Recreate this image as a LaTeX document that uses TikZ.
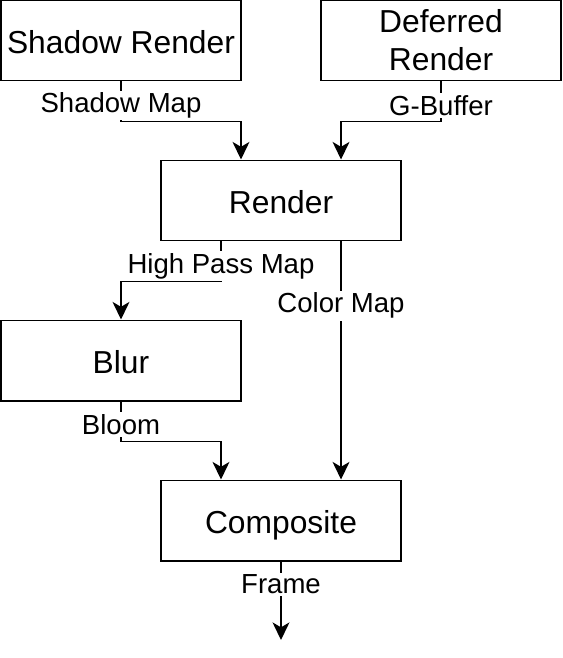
\documentclass[tikz,border=0pt]{standalone}
\usepackage{fontspec}
\setmainfont{Liberation Sans}
\usetikzlibrary{arrows.meta}
\tikzset{
  pass/.style={draw, line width=1.4pt, fill=white, align=center,
    minimum width=6cm, minimum height=2cm, inner sep=2pt,
    font=\fontsize{22.6}{27}\selectfont},
  oneline/.style={text height=17.8pt, text depth=0pt},
  link/.style={draw, line width=1.4pt, -{Stealth[length=12.5pt,width=12pt,inset=3.5pt]}},
  lbl/.style={fill=white, inner xsep=1pt, inner ysep=1.5pt, font=\fontsize{19.6}{23.5}\selectfont}
}
\begin{document}
\begin{tikzpicture}[x=0.025cm, y=-0.025cm]
  \useasboundingbox (0,0) rectangle (562,658);
  % passes, pixel grid of the sketch
  \node[pass, oneline] (shadow)    at (121,40.5)  {Shadow Render};
  \node[pass]          (deferred)  at (441,40.5)  {Deferred\\Render};
  \node[pass, oneline] (render)    at (281,200.5) {Render};
  \node[pass, oneline] (blur)      at (121,360.5) {Blur};
  \node[pass, oneline] (composite) at (281,520.5) {Composite};
  \coordinate (out) at (281,640);

  % data flow
  \draw[link] (shadow.south) -- node[lbl, pos=0.6]{Shadow Map} ++(0,40)
    -| ([xshift=-1cm]render.north);
  \draw[link] (deferred.south) -- node[lbl, pos=0.6]{G-Buffer} ++(0,40)
    -| ([xshift=1.5cm]render.north);
  \draw[link] ([xshift=-1.5cm]render.south) -- node[lbl, pos=0.62]{High Pass Map} ++(0,40)
    -| (blur.north);
  \draw[link] ([xshift=1.5cm]render.south) -- node[lbl, pos=0.27]{Color Map}
    ([xshift=1.5cm]composite.north);
  \draw[link] (blur.south) -- node[lbl, pos=0.57]{Bloom} ++(0,40)
    -| ([xshift=-1.5cm]composite.north);
  \draw[link] (composite.south) -- node[lbl, pos=0.29]{Frame} (out);
\end{tikzpicture}
\end{document}
